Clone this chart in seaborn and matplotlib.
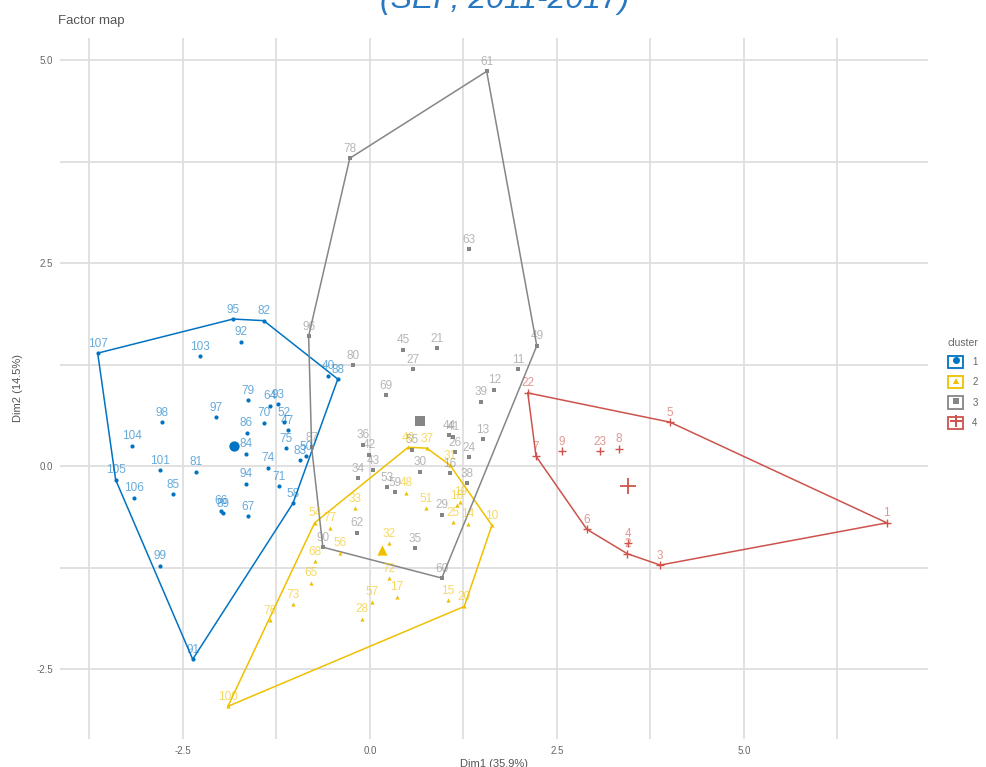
import numpy as np
import pandas as pd
import matplotlib
matplotlib.use("Agg")
import matplotlib.pyplot as plt
from matplotlib.lines import Line2D
from matplotlib.patches import Patch
from matplotlib.legend_handler import HandlerTuple
import seaborn as sns

# ─── DATA ────────────────────────────────────────────────────────────────────────
c1_labels = ["107", "95", "82", "92", "103", "40", "88", "79", "64", "93", "98", "97",
             "70", "52", "47", "86", "75", "83", "50", "84", "104", "101", "81", "105",
             "106", "85", "94", "74", "71", "58", "89", "66", "67", "99", "91"]
c1_x = [-3.64, -1.83, -1.42, -1.72, -2.27, -0.56, -0.43, -1.63, -1.34, -1.23, -2.78, -2.06,
        -1.42, -1.15, -1.10, -1.65, -1.12, -0.94, -0.86, -1.66, -3.18, -2.81, -2.33, -3.40,
        -3.16, -2.63, -1.66, -1.36, -1.22, -1.03, -1.97, -1.99, -1.63, -2.81, -2.37]
c1_y = [1.39, 1.81, 1.79, 1.53, 1.35, 1.11, 1.07, 0.81, 0.74, 0.76, 0.54, 0.60,
        0.53, 0.54, 0.44, 0.41, 0.22, 0.07, 0.12, 0.15, 0.25, -0.05, -0.07, -0.17,
        -0.39, -0.35, -0.22, -0.02, -0.25, -0.46, -0.58, -0.55, -0.62, -1.23, -2.38]

c2_labels = ["100", "76", "73", "65", "68", "54", "77", "56", "33", "32", "72", "17", "57",
             "28", "15", "20", "10", "14", "25", "18", "19", "51", "48", "31", "46", "37"]
c2_x = [-1.90, -1.34, -1.03, -0.79, -0.74, -0.74, -0.53, -0.40, -0.20, 0.25, 0.25, 0.36, 0.03,
        -0.11, 1.04, 1.26, 1.63, 1.31, 1.11, 1.16, 1.21, 0.75, 0.48, 1.07, 0.51, 0.76]
c2_y = [-2.96, -1.90, -1.70, -1.44, -1.17, -0.70, -0.76, -1.07, -0.52, -0.95, -1.38, -1.61, -1.67,
        -1.88, -1.65, -1.73, -0.73, -0.71, -0.69, -0.48, -0.44, -0.52, -0.33, 0.01, 0.23, 0.22]

c3_labels = ["61", "78", "63", "49", "96", "80", "45", "21", "27", "11", "69", "12", "39",
             "44", "41", "13", "26", "24", "36", "42", "43", "34", "30", "38", "16", "59",
             "53", "55", "29", "35", "62", "90", "60", "87"]
c3_x = [1.56, -0.27, 1.32, 2.23, -0.82, -0.23, 0.44, 0.90, 0.57, 1.98, 0.21, 1.66, 1.48,
        1.06, 1.11, 1.51, 1.14, 1.32, -0.09, -0.01, 0.04, -0.16, 0.67, 1.30, 1.07, 0.33,
        0.23, 0.56, 0.96, 0.60, -0.17, -0.63, 0.96, -0.78]
c3_y = [4.86, 3.79, 2.67, 1.48, 1.60, 1.24, 1.43, 1.45, 1.19, 1.19, 0.87, 0.94, 0.79,
        0.38, 0.36, 0.33, 0.17, 0.11, 0.26, 0.14, -0.05, -0.15, -0.07, -0.21, -0.09, -0.32,
        -0.26, 0.20, -0.60, -1.01, -0.82, -1.00, -1.38, 0.23]

c4_labels = ["22", "5", "7", "9", "23", "8", "6", "4", "2", "3", "1"]
c4_x = [2.11, 4.01, 2.22, 2.57, 3.07, 3.33, 2.90, 3.45, 3.44, 3.88, 6.91]
c4_y = [0.90, 0.54, 0.12, 0.18, 0.18, 0.21, -0.78, -0.95, -1.08, -1.22, -0.70]

# cluster centres (large markers)
centre_x = [-1.82, 0.16, 0.67, 3.45]
centre_y = [0.25, -1.03, 0.55, -0.25]

clusters = ["1", "2", "3", "4"]
colors = ["#0073C2", "#EFC000", "#868686", "#CD534C"]
markers = ["o", "^", "s", "+"]

# ─── BUILD TABLE ─────────────────────────────────────────────────────────────────
parts = []
for cl, lab, xs, ys in zip(clusters,
                           [c1_labels, c2_labels, c3_labels, c4_labels],
                           [c1_x, c2_x, c3_x, c4_x],
                           [c1_y, c2_y, c3_y, c4_y]):
    parts.append(pd.DataFrame({"label": lab, "dim1": xs, "dim2": ys, "cluster": cl}))
df = pd.concat(parts, ignore_index=True)


def convex_hull(pts):
    pts = sorted(set(map(tuple, pts)))
    def cross(o, a, b):
        return (a[0]-o[0])*(b[1]-o[1]) - (a[1]-o[1])*(b[0]-o[0])
    lower, upper = [], []
    for p in pts:
        while len(lower) >= 2 and cross(lower[-2], lower[-1], p) <= 0:
            lower.pop()
        lower.append(p)
    for p in reversed(pts):
        while len(upper) >= 2 and cross(upper[-2], upper[-1], p) <= 0:
            upper.pop()
        upper.append(p)
    hull = lower[:-1] + upper[:-1]
    return np.array(hull + [hull[0]])


# ─── PLOT ────────────────────────────────────────────────────────────────────────
sns.set_theme(style="whitegrid")
plt.rcParams["font.family"] = ["Liberation Sans", "DejaVu Sans"]

fig = plt.figure(figsize=(9.87, 7.67), dpi=100)
ax = fig.add_axes([60/987, 1-739/767, 868/987, 701/767])

for cl, col, mk, cx, cy in zip(clusters, colors, markers, centre_x, centre_y):
    sub = df[df["cluster"] == cl]
    hull = convex_hull(sub[["dim1", "dim2"]].values)
    ax.plot(hull[:, 0], hull[:, 1], color=col, lw=1.1, zorder=2)
    if mk == "+":
        sns.scatterplot(data=sub, x="dim1", y="dim2", color=col, marker=mk, s=28,
                        linewidth=1.0, legend=False, ax=ax, zorder=3)
        ax.scatter([cx], [cy], color=col, marker=mk, s=120, linewidths=1.3, zorder=3)
    else:
        sns.scatterplot(data=sub, x="dim1", y="dim2", color=col, marker=mk, s=9,
                        linewidth=0, legend=False, ax=ax, zorder=3)
        ax.scatter([cx], [cy], color=col, marker=mk, s=55, linewidths=0, zorder=3)
    for _, r in sub.iterrows():
        ax.annotate(r["label"], (r["dim1"], r["dim2"]), xytext=(0, 2.5),
                    textcoords="offset points", ha="center", va="bottom",
                    fontsize=8.5, color=col, alpha=0.6, zorder=4)

ax.set_xlim(-4.144, 7.46)
ax.set_ylim(-3.362, 5.271)
ax.set_xticks([-2.5, 0, 2.5, 5.0])
ax.set_xticklabels(["-2.5", "0.0", "2.5", "5.0"])
ax.set_yticks([-2.5, 0, 2.5, 5.0])
ax.set_yticklabels(["-2.5", "0.0", "2.5", "5.0"])
ax.set_xticks([-3.75, -1.25, 1.25, 3.75, 6.25], minor=True)
ax.set_yticks([-1.25, 1.25, 3.75], minor=True)
ax.grid(True, which="both", color="#DEDEDE", lw=1.3)
ax.set_axisbelow(True)
for s in ax.spines.values():
    s.set_visible(False)
ax.tick_params(which="major", length=3, width=0.8, color="#333333",
               labelsize=7, labelcolor="#666666", pad=2)
ax.tick_params(which="minor", length=0)
ax.set_xlabel("Dim1 (35.9%)", fontsize=8, color="#555555", labelpad=2)
ax.set_ylabel("Dim2 (14.5%)", fontsize=8, color="#555555", labelpad=10)

fig.text(58/987, 1-21/767, "Factor map", fontsize=9.5, color="#555555", va="center")
# page heading, mostly cut off by the top edge as in the source
fig.text(505/987, 1-8/767, "(SEP, 2011-2017)", fontsize=23, style="italic",
         color="#2878C0", ha="center", va="baseline")

handles = []
for col, mk in zip(colors, markers):
    box = Patch(facecolor="white", edgecolor=col, linewidth=1.3)
    if mk == "+":
        pt = Line2D([], [], color=col, marker=mk, ls="", markersize=9, markeredgewidth=1.4)
    else:
        pt = Line2D([], [], color=col, marker=mk, ls="", markersize=5, markeredgewidth=0)
    handles.append((box, pt))
leg = fig.legend(handles, clusters, title="cluster", loc="upper left",
                 bbox_to_anchor=(946/987, 1-336/767), frameon=False,
                 handler_map={tuple: HandlerTuple(ndivide=1)},
                 handlelength=1.6, handleheight=1.6, handletextpad=0.9,
                 labelspacing=0.8, fontsize=7, title_fontsize=7.5, alignment="left",
                 borderaxespad=0, borderpad=0.2)
for t in leg.get_texts():
    t.set_color("#666666")
leg.get_title().set_color("#666666")

fig.savefig("out.png", dpi=100)
